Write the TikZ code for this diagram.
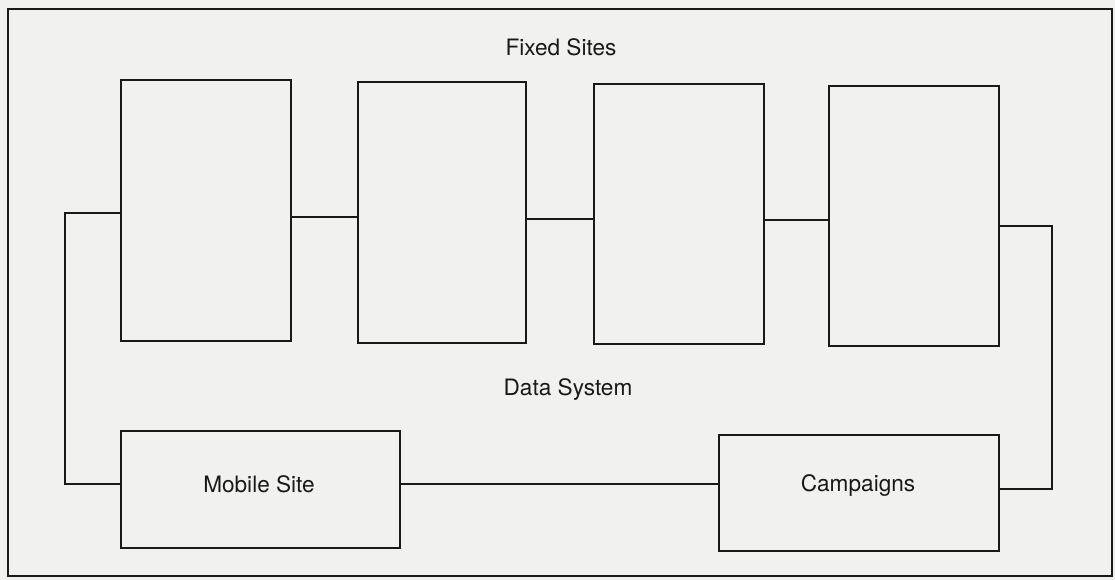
\documentclass[tikz,border=0pt]{standalone}
\usepackage{fontspec}
\setmainfont{TeX Gyre Heros}
\definecolor{paper}{RGB}{241,241,239}
\definecolor{ink}{RGB}{25,25,25}
\tikzset{
  site/.style={draw=ink, line width=1.7pt, inner sep=0pt, anchor=north west},
  wire/.style={draw=ink, line width=1.7pt},
  lbl/.style={font=\fontsize{22.6}{27}\selectfont, text=ink, inner sep=0pt}
}
\begin{document}
\begin{tikzpicture}[x=1pt,y=-1pt]
\useasboundingbox (0,0) rectangle (1115,580);
\fill[paper] (0,0) rectangle (1115,580);
\draw[wire] (8,9) rectangle (1112,576);
\node[site, minimum width=170pt, minimum height=261pt] (b1) at (120,79) {};
\node[site, minimum width=168pt, minimum height=261pt] (b2) at (357,81) {};
\node[site, minimum width=170pt, minimum height=260pt] (b3) at (593,83) {};
\node[site, minimum width=170pt, minimum height=260pt] (b4) at (828,85) {};
\node[site, minimum width=279pt, minimum height=117pt] (mob) at (120,430) {};
\node[site, minimum width=280pt, minimum height=116pt] (cam) at (718,434) {};
\node[lbl] (tmob) at (259,484) {Mobile Site};
\node[lbl] (tcam) at (858,486) {Campaigns};
\node[lbl] (fixed) at (561,47) {Fixed Sites};
\node[lbl] (data) at (568,390) {Data System};
\coordinate (c12) at (320,217);
\coordinate (c23) at (560,219);
\coordinate (c34) at (795,220);
\coordinate (lt) at (65,213);
\coordinate (lb) at (65,484);
\coordinate (rt) at (1052,226);
\coordinate (rb) at (1052,489);
\coordinate (mc) at (560,484);
\draw[wire] (b1.east |- c12) -- (b2.west |- c12);
\draw[wire] (b2.east |- c23) -- (b3.west |- c23);
\draw[wire] (b3.east |- c34) -- (b4.west |- c34);
\draw[wire] (b1.west |- lt) -- (lt) -- (lb) -- (mob.west |- lb);
\draw[wire] (b4.east |- rt) -- (rt) -- (rb) -- (cam.east |- rb);
\draw[wire] (mob.east |- mc) -- (cam.west |- mc);
\end{tikzpicture}
\end{document}
